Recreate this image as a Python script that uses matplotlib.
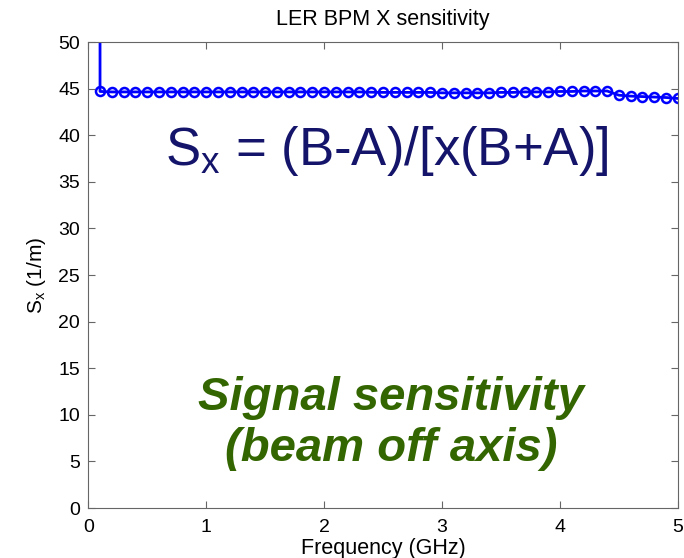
import matplotlib
matplotlib.use("Agg")
import matplotlib.pyplot as plt
import numpy as np

plt.rcParams['font.family'] = ['Liberation Sans', 'DejaVu Sans']
plt.rcParams['mathtext.default'] = 'regular'

# frequency points (GHz); first point is an off-scale spike at 0.1 GHz
freq = [0.1, 0.1, 0.2, 0.3, 0.4, 0.5, 0.6, 0.7, 0.8, 0.9, 1.0,
        1.1, 1.2, 1.3, 1.4, 1.5, 1.6, 1.7, 1.8, 1.9, 2.0,
        2.1, 2.2, 2.3, 2.4, 2.5, 2.6, 2.7, 2.8, 2.9, 3.0,
        3.1, 3.2, 3.3, 3.4, 3.5, 3.6, 3.7, 3.8, 3.9, 4.0,
        4.1, 4.2, 4.3, 4.4, 4.5, 4.6, 4.7, 4.8, 4.9, 5.0]
# sensitivity S_x (1/m)
sens = [300.0, 44.7, 44.65, 44.65, 44.65, 44.65, 44.65, 44.65, 44.65, 44.65, 44.65,
        44.65, 44.65, 44.65, 44.65, 44.65, 44.65, 44.65, 44.65, 44.65, 44.65,
        44.65, 44.65, 44.65, 44.62, 44.6, 44.6, 44.6, 44.6, 44.6, 44.55,
        44.55, 44.55, 44.55, 44.55, 44.6, 44.6, 44.65, 44.65, 44.65, 44.7,
        44.7, 44.75, 44.75, 44.75, 44.3, 44.2, 44.15, 44.1, 44.05, 43.95]

xticks = [0, 1, 2, 3, 4, 5]
yticks = [0, 5, 10, 15, 20, 25, 30, 35, 40, 45, 50]

fig = plt.figure(figsize=(6.84, 5.58), dpi=100)
ax = fig.add_axes([0.129, 0.0896, 0.862, 0.835])

ax.plot(freq, sens, color='#0000ff', linewidth=2, marker='o',
        markersize=6.5, markerfacecolor='none', markeredgewidth=1.8)

ax.set_xlim(0, 5)
ax.set_ylim(0, 50)
ax.set_xticks(xticks)
ax.set_yticks(yticks)
ax.tick_params(direction='in', top=True, right=True, labelsize=14,
               length=5, color='#666666')
ax.tick_params(axis='x', pad=8)
ax.tick_params(axis='y', pad=6)
for s in ax.spines.values():
    s.set_color('#666666')

ax.set_title('LER BPM X sensitivity', fontsize=15.5, pad=12)
ax.set_xlabel('Frequency (GHz)', fontsize=15.5, labelpad=1)
ax.set_ylabel('$S_x$ (1/m)', fontsize=15, labelpad=7)

ax.text(2.53, 38.3, '$S_x$ = (B-A)/[x(B+A)]', fontsize=38, color='#14146b',
        ha='center', va='center')
ax.text(2.57, 9.1, 'Signal sensitivity\n(beam off axis)', fontsize=34,
        color='#336600', fontweight='bold', fontstyle='italic',
        ha='center', va='center', linespacing=1.2)

fig.savefig('out.png', dpi=100)
